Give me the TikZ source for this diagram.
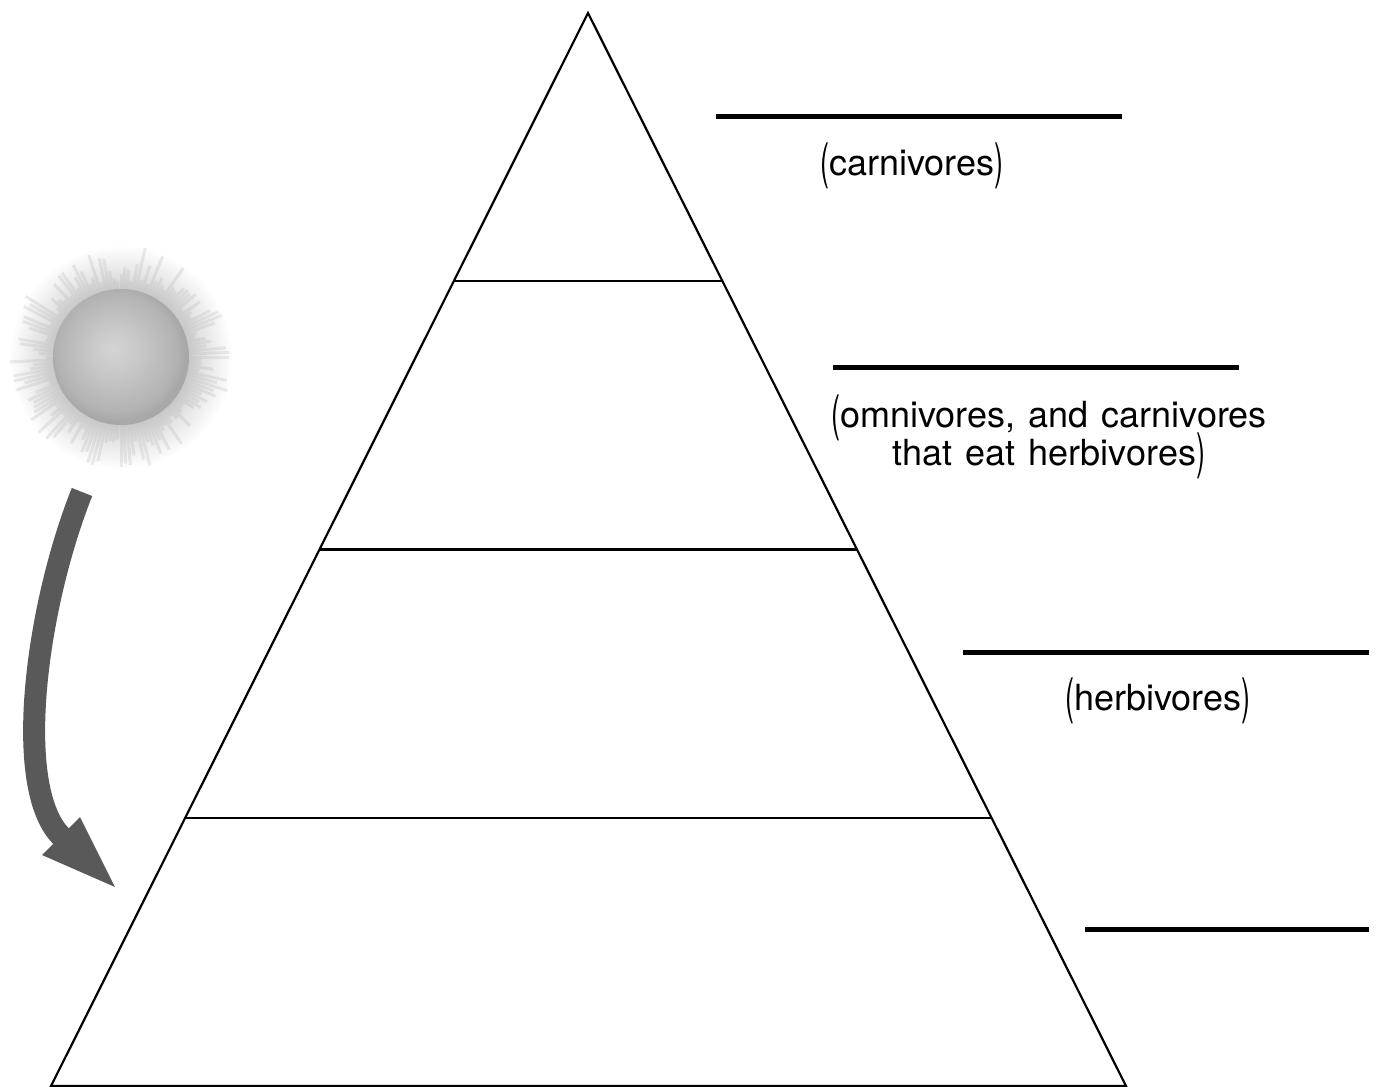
\documentclass[tikz,border=0pt]{standalone}
\usepackage{fontspec}
\setmainfont{TeX Gyre Heros}
\usetikzlibrary{calc}

\pgfdeclareradialshading{sunball}{\pgfpoint{-3bp}{3bp}}{color(0bp)=(gray!34); color(8bp)=(gray!42); color(22bp)=(gray!60); color(25bp)=(gray!68); color(50bp)=(gray!68)}
\pgfdeclareradialshading{sunhalo}{\pgfpointorigin}{color(0bp)=(gray!40); color(15bp)=(gray!36); color(19bp)=(gray!20); color(25bp)=(white); color(50bp)=(white)}

\newcommand{\lblfont}{\fontsize{36}{38}\selectfont\spaceskip=13pt\relax}
\newcommand{\lpar}{\smash{\raisebox{-3pt}{\scalebox{0.75}[1.36]{(}}}}
\newcommand{\rpar}{\smash{\raisebox{-3pt}{\scalebox{0.75}[1.36]{)}}}}

\tikzset{
  pyr/.style={line width=2.2pt, line join=miter},
  blank/.style={line width=5pt},
  lbl/.style={font=\lblfont, align=center, inner sep=0pt},
  ray/.style={line width=3pt, draw=gray!60, opacity=0.25},
  sunarrow/.style={line width=22pt, draw=black!65}
}

\begin{document}
\begin{tikzpicture}[x=1pt, y=-1pt]

\useasboundingbox (0,0) rectangle (1377,1087);

% pyramid
\coordinate (apex) at (588,13);
\coordinate (bl) at (51,1086);
\coordinate (br) at (1126,1086);
\draw[pyr] (apex) -- (br) -- (bl) -- cycle;
\foreach \t in {0.25,0.5,0.75}
  \draw[pyr] ($(apex)!\t!(bl)$) -- ($(apex)!\t!(br)$);

% blanks and labels
\draw[blank] (716,116) -- (1122,116);
\draw[blank] (833,367) -- (1239,367);
\draw[blank] (963,652) -- (1369,652);
\draw[blank] (1085,929) -- (1369,929);

\node[lbl, anchor=base] (carn) at (912,175) {\lpar carnivores\rpar};
\node[lbl, anchor=base] (omni) at (1049,465) {\lpar omnivores, and carnivores\\that eat herbivores\rpar};
\node[lbl, anchor=base] (herb) at (1158,710) {\lpar herbivores\rpar};

% sun
\coordinate (sun) at (121,357);
\shade[shading=sunhalo] (sun) circle (112);
\pgfmathsetseed{7}
\foreach \a in {0,2.5,...,357.5}{
  \pgfmathsetmacro\r{15+38*rnd}
  \draw[ray] (sun) ++(\a:60) -- ++(\a:\r);
}
\shade[shading=sunball] (sun) circle (68);

% arrow
\coordinate (ashaft) at (82,492);
\coordinate (abase) at (63,838);
\coordinate (abarbl) at (42,855);
\coordinate (abarbr) at (80,817);
\coordinate (atip) at (115,887);
\draw[sunarrow] (ashaft) .. controls (35,610) and (12,792) .. (abase);
\fill[black!65] (abarbl) -- (atip) -- (abarbr) -- cycle;

\end{tikzpicture}
\end{document}
